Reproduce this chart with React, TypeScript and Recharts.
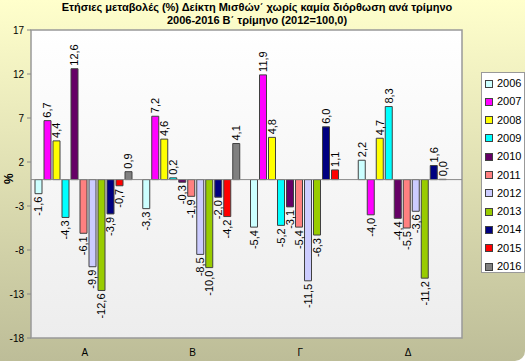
import React from 'react';
import { BarChart, Bar, XAxis, YAxis, ReferenceArea, ReferenceLine, LabelList } from 'recharts';

const categories = ['Α', 'Β', 'Γ', 'Δ'];
const years = ['2006', '2007', '2008', '2009', '2010', '2011', '2012', '2013', '2014', '2015', '2016'];

// one array per year: values for Α, Β, Γ, Δ
const v2006 = [-1.6, -3.3, -5.4, 2.2];
const v2007 = [6.7, 7.2, 11.9, -4.0];
const v2008 = [4.4, 4.6, 4.8, 4.7];
const v2009 = [-4.3, 0.2, -5.2, 8.3];
const v2010 = [12.6, -0.3, -3.1, -4.4];
const v2011 = [-6.1, -1.9, -5.4, -5.5];
const v2012 = [-9.9, -8.5, -11.5, -3.6];
const v2013 = [-12.6, -10.0, -6.3, -11.2];
const v2014 = [-3.9, -2.0, 6.0, 1.6];
const v2015 = [-0.7, -4.2, 1.1, 0.0];
const v2016 = [0.9, 4.1, null, null];

const yTicks = [17, 12, 7, 2, -3, -8, -13, -18];

const seriesValues = [v2006, v2007, v2008, v2009, v2010, v2011, v2012, v2013, v2014, v2015, v2016];
const colors = ['#CCFFFF', '#FF00FF', '#FFFF00', '#00FFFF', '#660066', '#FF8080', '#CCCCFF', '#99CC00', '#000080', '#FF0000', '#808080'];

const data = categories.map((c, i) => {
  const row: Record<string, any> = { name: c };
  years.forEach((y, j) => { row[y] = seriesValues[j][i]; });
  return row;
});

const font = '"Liberation Sans", Arial, sans-serif';

const fmt = (v: number) => v.toFixed(1).replace('.', ',');

const renderLabel = (props: any) => {
  const { x, y, width, height, value } = props;
  if (value === null || value === undefined) return null;
  const cx = Number(x) + Number(width) / 2;
  const top = Math.min(Number(y), Number(y) + Number(height));
  const bottom = Math.max(Number(y), Number(y) + Number(height));
  const neg = Number(value) < 0;
  const ay = neg ? bottom + 3 : top - 3;
  return (
    <text
      x={cx}
      y={ay}
      transform={`rotate(-90 ${cx} ${ay})`}
      textAnchor={neg ? 'end' : 'start'}
      dy="0.35em"
      fontSize={11}
      fontFamily={font}
      fill="#000"
    >
      {fmt(Number(value))}
    </text>
  );
};

// zero values still need a (near invisible) rect so the label gets drawn
const zeroMin = (v: any) => (v === 0 ? 0.3 : 0);

const App: React.FC = () => {
  return (
    <div
      style={{
        position: 'absolute',
        left: 0,
        top: 0,
        width: 525,
        height: 361,
        background: 'linear-gradient(to bottom, #FFFFCC 0%, #BDBD98 100%)',
        borderRadius: '0 0 10px 0',
        fontFamily: font,
        overflow: 'hidden',
      }}
    >
      <div style={{ position: 'absolute', top: 1, left: 0, width: 514, textAlign: 'center', fontSize: 11, fontWeight: 'bold', lineHeight: '13px', color: '#000' }}>
        Ετήσιες μεταβολές (%) Δείκτη Μισθών΄ χωρίς καμία διόρθωση ανά τρίμηνο
        <br />
        2006-2016 Β΄ τρίμηνο (2012=100,0)
      </div>
      <BarChart
        width={525}
        height={361}
        data={data}
        margin={{ top: 30, right: 63, bottom: 0, left: 0 }}
        barCategoryGap={4}
        barGap={2}
      >
        <defs>
          <linearGradient id="plotBg" x1="0" y1="0" x2="0" y2="1">
            <stop offset="0%" stopColor="#FFFFFF" />
            <stop offset="100%" stopColor="#EDEDED" />
          </linearGradient>
        </defs>
        <XAxis
          dataKey="name"
          axisLine={false}
          tickLine={false}
          tickSize={0}
          tickMargin={11}
          height={23}
          tick={{ fontSize: 10, fill: '#000', fontFamily: font }}
        />
        <YAxis
          width={31}
          domain={[-18, 17]}
          ticks={yTicks}
          interval={0}
          allowDataOverflow
          axisLine={false}
          tickSize={4}
          tickMargin={3}
          tickLine={{ stroke: '#888' }}
          tick={{ fontSize: 10, fill: '#000', fontFamily: font }}
          label={{ value: '%', angle: -90, position: 'insideLeft', offset: 9, fontSize: 12, fontWeight: 'bold', fill: '#000', fontFamily: font }}
        />
        <ReferenceArea y1={-18} y2={17} fill="url(#plotBg)" fillOpacity={1} stroke="#999" strokeWidth={1.5} />
        <ReferenceLine y={0} stroke="#888" strokeWidth={1} />
        {years.map((y, j) => (
          <Bar key={y} dataKey={y} fill={colors[j]} stroke="#404040" strokeWidth={1} minPointSize={zeroMin} isAnimationActive={false}>
            <LabelList dataKey={y} content={renderLabel} />
          </Bar>
        ))}
      </BarChart>
      <div
        style={{
          position: 'absolute',
          left: 481,
          top: 72,
          width: 42,
          height: 199,
          background: '#FFFFFF',
          border: '1px solid #999',
        }}
      >
        {years.map((y, j) => (
          <div key={y} style={{ position: 'absolute', left: 3, top: 4 + j * 18.3, height: 13, display: 'flex', alignItems: 'center' }}>
            <span style={{ display: 'inline-block', width: 6, height: 6, background: colors[j], border: '1px solid #404040' }} />
            <span style={{ marginLeft: 4, fontSize: 11, color: '#000', lineHeight: '13px' }}>{y}</span>
          </div>
        ))}
      </div>
    </div>
  );
};

export default App;
